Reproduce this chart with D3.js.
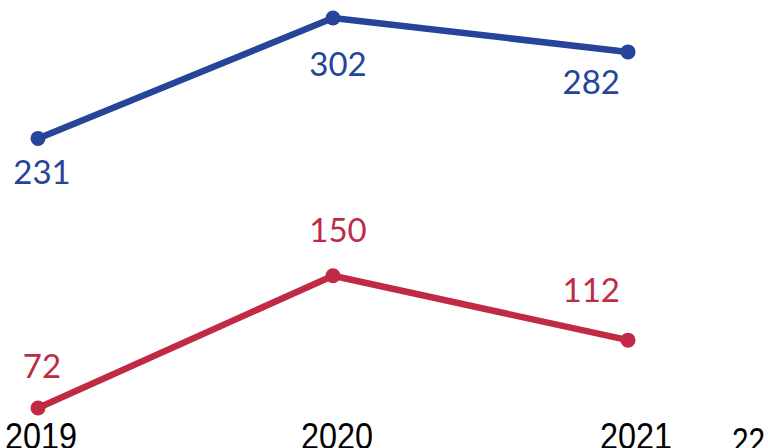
<!DOCTYPE html>
<html>
<head>
<meta charset="utf-8">
<script src="https://cdn.jsdelivr.net/npm/d3@7"></script>
<style>
  html, body { margin: 0; padding: 0; background: #ffffff; }
  svg { display: block; }
</style>
</head>
<body>
<svg id="chart" width="768" height="448"></svg>
<script>
// Yearly values for the two series
const years = ["2019", "2020", "2021"];
const blueValues = [231, 302, 282];
const redValues = [72, 150, 112];
const trailingLabel = "22";

const svg = d3.select("#chart");

const x = d3.scalePoint().domain(years).range([38, 628]);
const y = d3.scaleLinear().domain([72, 302]).range([408, 18]);

const series = [
  { values: blueValues, color: "#25449a", dy: [46, 58, 42] },
  { values: redValues, color: "#c02a44", dy: [-30, -34, -38] }
];
// Horizontal placement of the value labels around each point
const labelDx = [4, 5, -8];
const labelAnchor = ["middle", "middle", "end"];

const line = d3.line()
  .x((d, i) => x(years[i]))
  .y(d => y(d));

series.forEach(s => {
  const g = svg.append("g");
  g.append("path")
    .datum(s.values)
    .attr("d", line)
    .attr("fill", "none")
    .attr("stroke", s.color)
    .attr("stroke-width", 6.5)
    .attr("stroke-linejoin", "round");

  g.selectAll("circle")
    .data(s.values)
    .join("circle")
    .attr("cx", (d, i) => x(years[i]))
    .attr("cy", d => y(d))
    .attr("r", 7.5)
    .attr("fill", s.color);

  g.selectAll("text")
    .data(s.values)
    .join("text")
    .attr("x", (d, i) => x(years[i]) + labelDx[i])
    .attr("y", (d, i) => y(d) + s.dy[i])
    .attr("text-anchor", (d, i) => labelAnchor[i])
    .attr("fill", s.color)
    .style("font-family", "Lato, 'Open Sans', sans-serif")
    .style("font-size", "33px")
    .text(d => d);
});

// Year labels along the bottom edge, set in a condensed width
const axisDx = [3, 4, 8];
const axisFont = "'Liberation Sans', Arial, sans-serif";
svg.append("g")
  .selectAll("text")
  .data(years)
  .join("text")
  .attr("x", (d, i) => x(d) + axisDx[i])
  .attr("y", 449)
  .attr("text-anchor", "middle")
  .attr("textLength", 72)
  .attr("lengthAdjust", "spacingAndGlyphs")
  .attr("fill", "#000")
  .style("font-family", axisFont)
  .style("font-size", "37px")
  .text(d => d);

svg.append("text")
  .attr("x", 732)
  .attr("y", 454)
  .attr("textLength", 33)
  .attr("lengthAdjust", "spacingAndGlyphs")
  .attr("fill", "#000")
  .style("font-family", axisFont)
  .style("font-size", "36px")
  .text(trailingLabel);
</script>
</body>
</html>
